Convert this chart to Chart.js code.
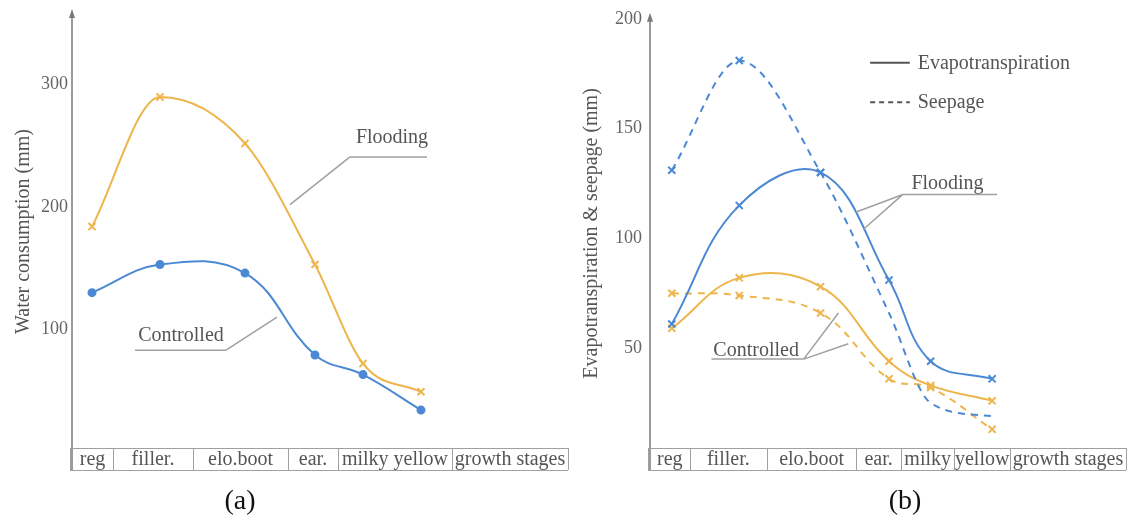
<!DOCTYPE html>
<html>
<head>
<meta charset="utf-8">
<title>Water consumption by growth stage</title>
<script src="https://cdn.jsdelivr.net/npm/chart.js@4/dist/chart.umd.min.js"></script>
<style>
  html, body { margin: 0; padding: 0; background: #fff; }
  #wrap { position: relative; width: 1133px; height: 523px; }
  .panel { position: absolute; top: 0; }
  #pa { left: 0; }
  #pb { left: 580px; }
</style>
</head>
<body>
<div id="wrap">
  <div class="panel" id="pa"><canvas id="chartA" width="580" height="523"></canvas></div>
  <div class="panel" id="pb"><canvas id="chartB" width="553" height="523"></canvas></div>
</div>
<script>
// ---- panel (a): water consumption ----
const stagesA = ['reg', 'filler.', 'elo.boot', 'ear.', 'milky yellow', 'growth stages'];
const cellEdgesA = [0, 41, 121, 216, 266, 380, 496];
const pointXA = [20, 88, 173, 243, 291, 349];
const floodingA = [184, 290, 252, 153, 72, 49];
const controlledA = [130, 153, 146, 79, 63, 34];
const ticksA = [100, 200, 300];

// ---- panel (b): evapotranspiration & seepage ----
const stagesB = ['reg', 'filler.', 'elo.boot', 'ear.', 'milky', 'yellow', 'growth stages'];
const cellEdgesB = [0, 40, 118, 208, 253, 307, 363, 480];
const pointXB = [22, 90, 172, 241, 283, 345];
const floodingET = [61, 115, 130, 81, 44, 36];
const floodingSeep = [131, 181, 130, 66, 25, 19];
const controlledET = [59, 82, 78, 44, 33, 26];
const controlledSeep = [75, 74, 66, 36, 32, 13];
const ticksB = [50, 100, 150, 200];

const ORANGE = '#EDB54C';
const BLUE = '#4C89D4';
const TEXT = '#555555';
const AXIS = '#7a7a7a';
const RULE = '#a0a0a0';
const SERIF = '"Liberation Serif", "DejaVu Serif", serif';
const TABLE_H = 22;

const toPoints = (xs, ys) => xs.map((x, i) => ({ x: x, y: ys[i] }));

// axis arrow, stage table, call-outs, legend and caption
const extras = {
    id: 'extras',
    afterDraw(chart, args, o) {
        const { ctx, chartArea: a, scales: { x, y } } = chart;
        const X = v => x.getPixelForValue(v), Y = v => y.getPixelForValue(v);
        const top = a.bottom, bot = a.bottom + TABLE_H;
        ctx.save();

        // y axis + arrow head
        ctx.strokeStyle = AXIS; ctx.lineWidth = 1.5;
        ctx.beginPath(); ctx.moveTo(a.left, bot); ctx.lineTo(a.left, a.top - 2); ctx.stroke();
        ctx.fillStyle = AXIS;
        ctx.beginPath();
        ctx.moveTo(a.left, a.top - 6); ctx.lineTo(a.left - 3, a.top + 3); ctx.lineTo(a.left + 3, a.top + 3);
        ctx.closePath(); ctx.fill();

        // growth stage table
        const edges = o.edges;
        const xL = X(edges[0]) - 2, xR = X(edges[edges.length - 1]);
        ctx.strokeStyle = RULE; ctx.lineWidth = 1;
        ctx.beginPath();
        ctx.moveTo(xL, top + 0.5); ctx.lineTo(xR, top + 0.5);
        ctx.moveTo(xL, bot + 0.5); ctx.lineTo(xR, bot + 0.5);
        edges.forEach((e, i) => {
            const px = (i === 0 ? xL : Math.round(X(e))) + 0.5;
            ctx.moveTo(px, top); ctx.lineTo(px, bot);
        });
        ctx.stroke();
        ctx.fillStyle = TEXT;
        ctx.font = '20px ' + SERIF;
        ctx.textAlign = 'center'; ctx.textBaseline = 'middle';
        o.stages.forEach((s, i) => {
            ctx.fillText(s, (X(edges[i]) + X(edges[i + 1])) / 2, (top + bot) / 2 + 1);
        });

        // call-outs
        o.callouts.forEach(c => {
            ctx.fillStyle = TEXT;
            ctx.font = '20px ' + SERIF;
            ctx.textAlign = 'center'; ctx.textBaseline = 'middle';
            ctx.fillText(c.text, X(c.tx), Y(c.ty));
            ctx.strokeStyle = RULE; ctx.lineWidth = 1.5;
            ctx.beginPath();
            ctx.moveTo(X(c.u0), Y(c.uy)); ctx.lineTo(X(c.u1), Y(c.uy));
            const ax = c.from === 'left' ? c.u0 : c.u1;
            c.leaders.forEach(p => { ctx.moveTo(X(ax), Y(c.uy)); ctx.lineTo(X(p[0]), Y(p[1])); });
            ctx.stroke();
        });

        // legend (line styles)
        (o.legend || []).forEach(l => {
            ctx.strokeStyle = '#555'; ctx.lineWidth = 2;
            ctx.setLineDash(l.dash);
            ctx.beginPath(); ctx.moveTo(X(l.x0), Y(l.y)); ctx.lineTo(X(l.x1), Y(l.y)); ctx.stroke();
            ctx.setLineDash([]);
            ctx.fillStyle = TEXT;
            ctx.font = '20px ' + SERIF;
            ctx.textAlign = 'left'; ctx.textBaseline = 'middle';
            ctx.fillText(l.label, X(l.tx), Y(l.y) + 1);
        });

        // panel caption
        ctx.fillStyle = '#111';
        ctx.font = '28px ' + SERIF;
        ctx.textAlign = 'center'; ctx.textBaseline = 'middle';
        ctx.fillText(o.caption.text, o.caption.x, o.caption.y);
        ctx.restore();
    }
};

function baseOptions(cfg) {
    return {
        responsive: false,
        animation: false,
        layout: { padding: cfg.padding },
        plugins: { legend: { display: false }, tooltip: { enabled: false }, extras: cfg.extras },
        scales: {
            x: {
                type: 'linear', min: 0, max: cfg.xMax,
                afterFit: s => { s.height = TABLE_H; },
                ticks: { display: false },
                grid: { display: false, drawTicks: false },
                border: { display: false }
            },
            y: {
                min: cfg.yMin, max: cfg.yMax,
                afterBuildTicks: s => { s.ticks = cfg.ticks.map(v => ({ value: v })); },
                afterFit: s => { s.width = cfg.yWidth; },
                grid: { display: false, drawTicks: false },
                border: { display: false },
                ticks: { color: '#666', padding: cfg.tickPad, font: { family: SERIF, size: 18 } },
                title: {
                    display: true, text: cfg.yTitle, color: TEXT,
                    font: { family: SERIF, size: 20 }, padding: { top: cfg.titlePad, bottom: 0 }
                }
            }
        }
    };
}

new Chart(document.getElementById('chartA'), {
    type: 'line',
    data: {
        datasets: [
            {
                label: 'Flooding', data: toPoints(pointXA, floodingA),
                borderColor: ORANGE, backgroundColor: ORANGE, borderWidth: 2,
                pointStyle: 'crossRot', pointRadius: 5, pointBorderWidth: 2,
                cubicInterpolationMode: 'monotone'
            },
            {
                label: 'Controlled', data: toPoints(pointXA, controlledA),
                borderColor: BLUE, backgroundColor: BLUE, borderWidth: 2,
                pointStyle: 'circle', pointRadius: 3.5, tension: 0.4
            }
        ]
    },
    options: baseOptions({
        padding: { top: 15, right: 12, bottom: 53, left: 0 },
        xMax: cellEdgesA[cellEdgesA.length - 1],
        yMin: 3, yMax: 357, ticks: ticksA, yWidth: 72, tickPad: 4, titlePad: 12,
        yTitle: 'Water consumption (mm)',
        extras: {
            edges: cellEdgesA, stages: stagesA,
            callouts: [
                { text: 'Flooding', tx: 320, ty: 257, u0: 278, u1: 355, uy: 241, from: 'left', leaders: [[218, 202]] },
                { text: 'Controlled', tx: 109, ty: 95, u0: 63, u1: 154, uy: 83, from: 'right', leaders: [[205, 110]] }
            ],
            caption: { text: '(a)', x: 240, y: 502 }
        }
    }),
    plugins: [extras]
});

new Chart(document.getElementById('chartB'), {
    type: 'line',
    data: {
        datasets: [
            {
                label: 'Flooding evapotranspiration', data: toPoints(pointXB, floodingET),
                borderColor: BLUE, backgroundColor: BLUE, borderWidth: 2,
                pointStyle: 'crossRot', pointRadius: 5, pointBorderWidth: 2, tension: 0.4
            },
            {
                // seepage markers only show on the early stages in the original
                label: 'Flooding seepage', data: toPoints(pointXB, floodingSeep),
                borderColor: BLUE, backgroundColor: BLUE, borderWidth: 2, borderDash: [7, 6],
                pointStyle: 'crossRot', pointRadius: [5, 5, 5, 0, 0, 0], pointBorderWidth: 2,
                cubicInterpolationMode: 'monotone'
            },
            {
                label: 'Controlled evapotranspiration', data: toPoints(pointXB, controlledET),
                borderColor: ORANGE, backgroundColor: ORANGE, borderWidth: 2,
                pointStyle: 'crossRot', pointRadius: 5, pointBorderWidth: 2, tension: 0.4
            },
            {
                label: 'Controlled seepage', data: toPoints(pointXB, controlledSeep),
                borderColor: ORANGE, backgroundColor: ORANGE, borderWidth: 2, borderDash: [7, 6],
                pointStyle: 'crossRot', pointRadius: 5, pointBorderWidth: 2, tension: 0.4
            }
        ]
    },
    options: baseOptions({
        padding: { top: 16, right: 3, bottom: 53, left: 0 },
        xMax: cellEdgesB[cellEdgesB.length - 1],
        yMin: 4.5, yMax: 200, ticks: ticksB, yWidth: 70, tickPad: 8, titlePad: 0,
        yTitle: 'Evapotranspiration & seepage (mm)',
        extras: {
            edges: cellEdgesB, stages: stagesB,
            callouts: [
                { text: 'Flooding', tx: 300, ty: 125, u0: 255, u1: 350, uy: 120, from: 'left', leaders: [[208, 112], [215, 104]] },
                { text: 'Controlled', tx: 107, ty: 49, u0: 62, u1: 155, uy: 45, from: 'right', leaders: [[190, 66], [200, 52]] }
            ],
            legend: [
                { label: 'Evapotranspiration', dash: [], x0: 222, x1: 262, tx: 270, y: 180 },
                { label: 'Seepage', dash: [5, 4], x0: 222, x1: 262, tx: 270, y: 162 }
            ],
            caption: { text: '(b)', x: 325, y: 502 }
        }
    }),
    plugins: [extras]
});
</script>
</body>
</html>
